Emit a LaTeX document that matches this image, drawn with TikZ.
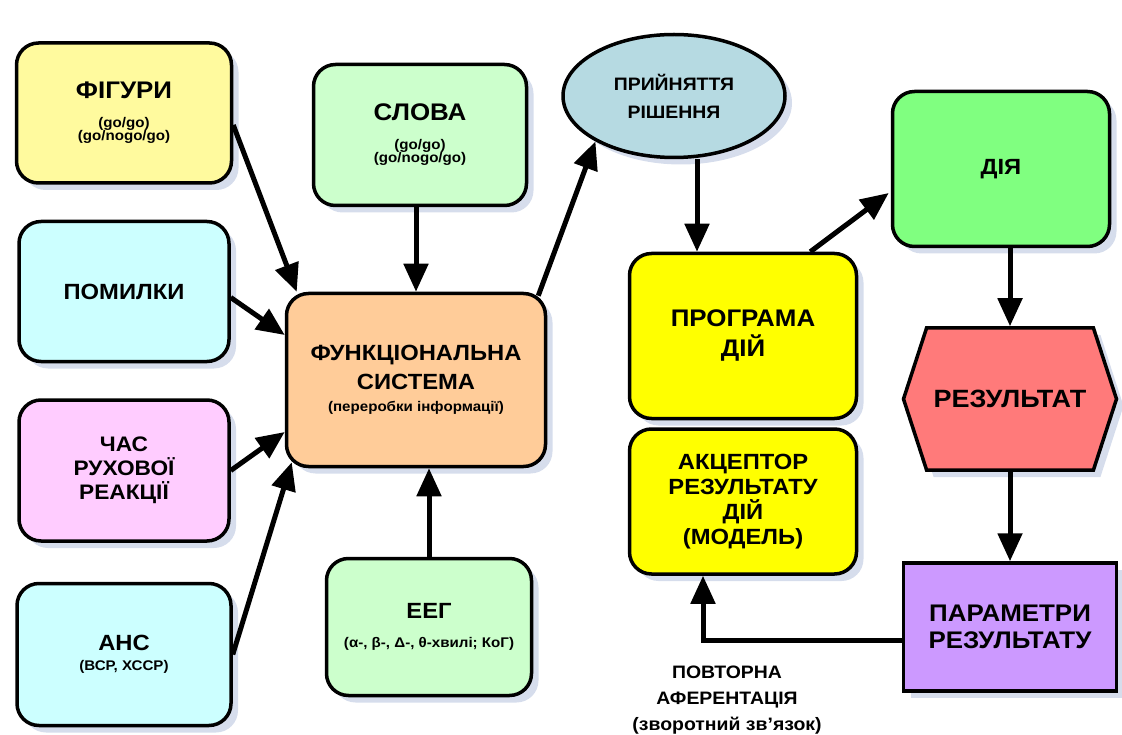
\documentclass[tikz,border=0pt]{standalone}
\usepackage{fontspec}
\setmainfont{Liberation Sans}[FakeStretch=1.08]
\usepackage{tikz}
\usetikzlibrary{arrows.meta,positioning,shapes.geometric,shapes.symbols,shadows}
\definecolor{figfill}{HTML}{FFFA9E}
\definecolor{errfill}{HTML}{CCFFFF}
\definecolor{timefill}{HTML}{FFCCFF}
\definecolor{wordfill}{HTML}{CCFFCC}
\definecolor{fsfill}{HTML}{FFCC99}
\definecolor{decfill}{HTML}{B6DAE2}
\definecolor{progfill}{HTML}{FFFF00}
\definecolor{actfill}{HTML}{80FF80}
\definecolor{resfill}{HTML}{FF7A7A}
\definecolor{parfill}{HTML}{CC99FF}
\definecolor{shadowc}{HTML}{D6DDEC}
\newcommand{\smalltxt}[1]{{\fontsize{14}{16}\selectfont #1}}
\tikzset{
  boxbase/.style={draw, line width=3.5pt, align=center, inner sep=2pt,
    font=\bfseries\fontsize{22}{26}\selectfont,
    drop shadow={shadow xshift=7pt, shadow yshift=-7pt, fill=shadowc, opacity=1}},
  card/.style={boxbase, rounded corners=22pt},
  bighead/.style={font=\bfseries\fontsize{24}{28}\selectfont},
  flow/.style={line width=5pt, -{Triangle[length=28pt,width=24pt]}}
}

\begin{document}
\begin{tikzpicture}[x=1pt,y=1pt]
  \useasboundingbox (0,0) rectangle (1122,-735);

  % inputs on the left
  \node[card, bighead, fill=figfill, minimum width=215pt, minimum height=140pt] (fig) at (124,-113)
    {ФІГУРИ\\[1pt]\smalltxt{(go/go)}\\[-15pt]\smalltxt{(go/nogo/go)}};
  \node[card, fill=errfill, minimum width=210pt, minimum height=140pt, below=35pt of fig] (err) {ПОМИЛКИ};
  \node[card, fill=timefill, minimum width=210pt, minimum height=141pt, below=35pt of err,
    font=\bfseries\fontsize{21}{26}\selectfont] (time) {ЧАС\\[-2pt]РУХОВОЇ\\[-2pt]РЕАКЦІЇ};
  \node[card, fill=errfill, minimum width=214pt, minimum height=142pt, below=39pt of time] (ans)
    {АНС\\[-6pt]\smalltxt{(ВСР, ХССР)}};

  \node[card, bighead, fill=wordfill, minimum width=213pt, minimum height=141pt] (words) at (420,-135)
    {СЛОВА\\[1pt]\smalltxt{(go/go)}\\[-15pt]\smalltxt{(go/nogo/go)}};
  \node[card, fill=fsfill, minimum width=259pt, minimum height=173pt] (fs) at (416,-380)
    {ФУНКЦІОНАЛЬНА\\[3pt]СИСТЕМА\\[-4pt]\smalltxt{(переробки інформації)}};
  \node[card, fill=wordfill, minimum width=205pt, minimum height=137pt] (eeg) at (429,-627)
    {ЕЕГ\\[3pt]\smalltxt{(α-, β-, Δ-, θ-хвилі; КоГ)}};

  % decision and action chain
  \node[boxbase, ellipse, fill=decfill, minimum width=222pt, minimum height=123pt, inner sep=0pt,
    font=\bfseries\fontsize{18}{22}\selectfont] (dec) at (674,-96) {ПРИЙНЯТТЯ\\[6pt]РІШЕННЯ};
  \node[card, bighead, fill=progfill, minimum width=227pt, minimum height=165pt] (prog) at (743,-336)
    {ПРОГРАМА\\[2pt]ДІЙ};
  \node[card, fill=progfill, minimum width=227pt, minimum height=145pt, below=7pt of prog,
    font=\bfseries\fontsize{22}{26}\selectfont] (accept) {АКЦЕПТОР\\[-1pt]РЕЗУЛЬТАТУ\\[-1pt]ДІЙ\\[-1pt](МОДЕЛЬ)};
  \node[card, fill=actfill, minimum width=217pt, minimum height=155pt] (act) at (1001,-169) {ДІЯ};
  \node[boxbase, signal, signal to=west and east, signal pointer angle=144, fill=resfill,
    minimum width=213pt, minimum height=142pt, font=\bfseries\fontsize{25}{28}\selectfont] (res) at (1010,-399)
    {РЕЗУЛЬТАТ};
  \node[boxbase, bighead, fill=parfill, minimum width=213pt, minimum height=128pt] (params) at (1010,-627)
    {ПАРАМЕТРИ\\[-1pt]РЕЗУЛЬТАТУ};
  \node[align=center, font=\bfseries\fontsize{18}{26}\selectfont] (fbnote) at (727,-700)
    {ПОВТОРНА\\АФЕРЕНТАЦІЯ\\(зворотний зв’язок)};

  % connectors
  \draw[flow] ([yshift=-12pt]fig.east) -- ([xshift=12pt]fs.north west);
  \draw[flow] ([yshift=-6pt]err.east) -- ([yshift=45pt]fs.west);
  \draw[flow] (time.east) -- ([yshift=-52pt]fs.west);
  \draw[flow] (ans.east) -- ([xshift=7pt,yshift=6pt]fs.south west);
  \draw[flow] (fs.north |- words.south) -- (fs.north);
  \draw[flow] (eeg.north) -- (eeg.north |- fs.south);
  \draw[flow] ([xshift=-9pt,yshift=-4pt]fs.north east) -- (dec.210);
  \draw[flow] ([xshift=23pt]dec.south) -- ([xshift=23pt]dec.south |- prog.north);
  \draw[flow] ([xshift=-48pt]prog.north east) -- ([xshift=-2pt,yshift=-24pt]act.west);
  \draw[flow] (res.north |- act.south) -- (res.north);
  \draw[flow] (res.south) -- (params.north);
  \draw[flow] ([yshift=-13pt]params.west) -| ([xshift=-40pt]accept.south);
\end{tikzpicture}
\end{document}
